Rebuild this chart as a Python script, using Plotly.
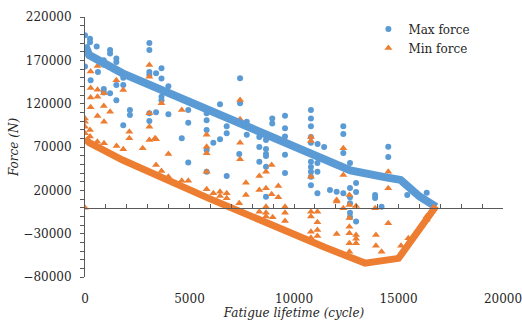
import plotly.graph_objects as go

# Dense running trend of the force per cycle (drawn as a thick band)
max_band_x = [0, 200, 1800, 5800, 11200, 12700, 14400, 15100, 16000, 16800]
max_band_y = [188000, 176000, 155000, 113000, 58000, 43000, 35000, 32000, 13000, 1000]
min_band_x = [0, 200, 1800, 5900, 11500, 13400, 15000, 16800]
min_band_y = [80000, 75000, 55000, 11000, -46000, -64000, -58500, 2000]

# Scattered individual readings
max_x = [0, 0, 240, 240, 270, 560, 620, 900, 900, 900, 900, 1200, 1200, 1200, 1500, 1500,
         1500, 1500, 1830, 1830, 1830, 2150, 2150, 3080, 3080, 3080, 3080, 3080, 3080, 3400,
         3400, 3660, 3660, 3660, 3660, 3990, 3990, 4630, 4940, 4940, 4940, 5820, 5820, 5820,
         5820, 5820, 6140, 6460, 6460, 6780, 6780, 6780, 7380, 7420, 7420, 7740, 7740, 8340,
         8340, 8340, 8660, 8660, 8660, 8660, 8660, 8660, 8960, 8960, 9570, 9570, 9570, 9570,
         9570, 9570, 10810, 10810, 10810, 10810, 10810, 10810, 10810, 10810, 10810, 10810,
         11130, 11120, 11120, 11120, 11440, 11720, 12040, 12360, 12360, 12360, 12360, 12680,
         12680, 12680, 12680, 12680, 12680, 12970, 12970, 12970, 13880, 13880, 14190, 14510,
         14510, 15420, 16350]
max_y = [199000, 163000, 195000, 191000, 147000, 186000, 156600, 170000, 165000, 137000,
         133000, 182000, 178000, 132000, 172000, 168000, 141600, 124000, 150000, 141600,
         95000, 112700, 107000, 190000, 182000, 156600, 153000, 109000, 100000, 155000,
         110000, 161000, 149000, 128000, 124000, 140000, 107700, 80000, 112700, 98000,
         52000, 109000, 101000, 89600, 66500, 41500, 75000, 119300, 79000, 94000, 86000,
         36600, 62000, 149300, 120400, 99000, 84000, 81600, 70000, 53000, 78000, 67600,
         59600, 47300, 12700, 62000, 103000, 97000, 106000, 91500, 82000, 75000, 61000,
         40000, 112700, 103000, 94000, 81600, 75000, 53000, 47000, 41500, 35800, 26000,
         73500, 51500, 41500, 16600, 70000, 20400, 18500, 94000, 85000, 63000, 16600,
         51500, 22700, 12000, 5000, -6000, -10700, 28500, 18000, -16000, 14600, 11200,
         1200, 70400, 58500, 14600, 17300]

min_x = [0, 0, 0, 0, 0, 240, 240, 270, 270, 270, 270, 590, 600, 600, 600, 600, 900, 900,
         910, 910, 1200, 1500, 1510, 1830, 1830, 2120, 2120, 2760, 3080, 3080, 3080, 3080,
         3080, 3350, 3400, 3400, 3660, 3660, 3990, 3990, 4630, 4630, 4940, 5820, 5820, 5820,
         5820, 5820, 6140, 6460, 6460, 6780, 6780, 7380, 7420, 7420, 7420, 7420, 7700, 7700,
         8340, 8340, 8340, 8660, 8660, 8660, 8660, 8660, 8930, 8930, 8960, 8980, 9250, 9250,
         9570, 9570, 9570, 9570, 9570, 10810, 10810, 10810, 10810, 10810, 10810, 10810, 10810,
         11120, 11120, 11120, 11120, 11440, 12040, 12040, 12040, 12360, 12360, 12360, 12650,
         12650, 12650, 12650, 12650, 12650, 12650, 12970, 12970, 12970, 12970, 13880, 13920,
         13920, 14190, 14510, 14510, 14510, 15120, 15470, 16350, 16350, 16350]
min_y = [0, 103000, 99000, 93500, 85800, 89600, 82000, 157000, 138000, 127000, 116000,
         76000, 163500, 136000, 128000, 105800, 132000, 117300, 99000, 74300, 110800,
         147000, 71200, 135800, 67300, 87700, 80000, 68500, 164600, 151000, 109000, 93500,
         78100, 80000, 78900, 49300, 120400, 42300, 62000, 35800, 112700, 31200, 31200,
         84000, 70400, 62800, 41500, 21200, 16600, 18500, 13500, 16600, 11000, 5000,
         124300, 102000, 75000, 55800, 28800, 14600, 36600, 20400, -4600, 41500, 22400,
         1200, -6000, -10300, 49300, 15400, 81200, -11000, 25000, 12000, 74300, 1200,
         -5800, -15400, -25700, 81600, 77000, 63500, 35800, -4600, -10300, -27700, -34600,
         -4600, -16800, -25700, -32700, 55800, 8900, 7000, -30300, 68500, 37700, -700,
         14600, 3000, -12000, -22000, -29500, -41000, -50800, 2000, -31500, -36000, -41000,
         -700, -31500, -44000, -50800, 41500, 22400, -18000, -44000, -35300, 8900, -10000,
         -14000]

BLUE = "#5B9BD5"
ORANGE = "#ED7D31"
AXIS = "#595959"
FONT = "DejaVu Serif"

fig = go.Figure()

fig.add_trace(go.Scatter(x=max_band_x, y=max_band_y, mode="lines", xaxis="x2",
                         line=dict(color=BLUE, width=8), showlegend=False,
                         hoverinfo="skip"))
fig.add_trace(go.Scatter(x=min_band_x, y=min_band_y, mode="lines", xaxis="x2",
                         line=dict(color=ORANGE, width=7), showlegend=False,
                         hoverinfo="skip"))
fig.add_trace(go.Scatter(x=max_x, y=max_y, mode="markers", name="Max force",
                         marker=dict(symbol="circle", size=6, color=BLUE)))
fig.add_trace(go.Scatter(x=min_x, y=min_y, mode="markers", name="Min force",
                         marker=dict(symbol="triangle-up", size=7, color=ORANGE)))

fig.update_layout(
    width=522, height=320,
    margin=dict(l=85, r=19, t=17, b=43),
    paper_bgcolor="white", plot_bgcolor="white",
    font=dict(family=FONT, size=12, color="#262626"),
    xaxis=dict(
        range=[0, 20000], tick0=0, dtick=5000, tickformat="d",
        showline=False, showgrid=False, zeroline=False, ticks="",
        ticklabelstandoff=13, ticklabeloverflow="allow", automargin=False,
        title=dict(text="Fatigue lifetime (cycle)", standoff=5,
                   font=dict(family=FONT, size=12, style="italic")),
    ),
    xaxis2=dict(
        range=[0, 20000], overlaying="x", anchor="free", position=80000 / 300000,
        side="bottom", showline=True, linecolor=AXIS, linewidth=1,
        showgrid=False, zeroline=False, showticklabels=False, automargin=False,
        tick0=0, dtick=5000, ticks="inside", ticklen=4, tickcolor=AXIS,
        minor=dict(dtick=1000, tick0=0, ticks="inside", ticklen=4, tickcolor=AXIS),
    ),
    yaxis=dict(
        range=[-80000, 220000], tick0=-80000, dtick=50000, tickformat="d",
        showline=True, linecolor=AXIS, linewidth=1,
        showgrid=False, zeroline=False, automargin=False,
        ticks="outside", ticklen=4, tickcolor=AXIS, ticklabelstandoff=6,
        minor=dict(dtick=10000, tick0=-80000, ticks="outside", ticklen=4, tickcolor=AXIS),
        title=dict(text="Force (N)", standoff=2,
                   font=dict(family=FONT, size=12, style="italic")),
    ),
    legend=dict(x=0.678, y=1.01, xanchor="left", yanchor="top",
                bgcolor="rgba(0,0,0,0)", font=dict(family=FONT, size=12),
                itemwidth=30, tracegroupgap=0),
)

fig.write_html("out.html")
